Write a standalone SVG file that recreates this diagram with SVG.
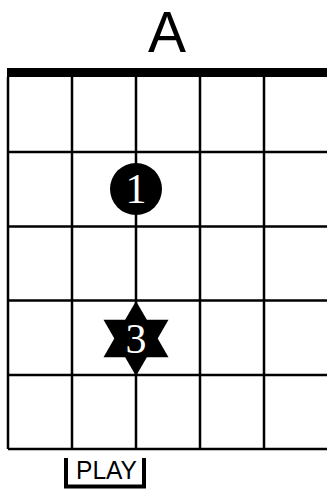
<svg xmlns="http://www.w3.org/2000/svg" width="327" height="489" viewBox="0 0 327 489">
<style>
.g{stroke:#000;stroke-width:2.5;fill:none}
.t{font-family:"Liberation Sans",Arial,sans-serif;fill:#000}
.n{font-family:"Liberation Serif","Times New Roman",serif;fill:#fff;font-size:42px;text-anchor:middle}
</style>
<rect width="327" height="489" fill="#fff"/>
<g id="title"><text class="t" x="167" y="52" font-size="57" text-anchor="middle">A</text></g>
<g id="grid">
<rect x="7" y="68" width="320" height="9" fill="#000"/>
<path class="g" d="M8 77V449M72 77V449M136 77V449M200 77V449M264 77V449M8 152H327M8 226.5H327M8 300.5H327M8 375H327M8 449H327"/>
</g>
<g id="finger1">
<circle cx="136" cy="189" r="26" fill="#000"/>
<text class="n" x="136" y="203">1</text>
</g>
<g id="finger3">
<polygon points="136,301 168.5,357.3 103.5,357.3" fill="#000"/>
<polygon points="136,376 168.5,319.7 103.5,319.7" fill="#000"/>
<text class="n" x="136" y="353">3</text>
</g>
<g id="play">
<path d="M66 458V486.5H144V458" stroke="#000" stroke-width="4" fill="none"/>
<text class="t" x="106.5" y="479" font-size="26" text-anchor="middle" textLength="61" lengthAdjust="spacingAndGlyphs">PLAY</text>
</g>
</svg>
